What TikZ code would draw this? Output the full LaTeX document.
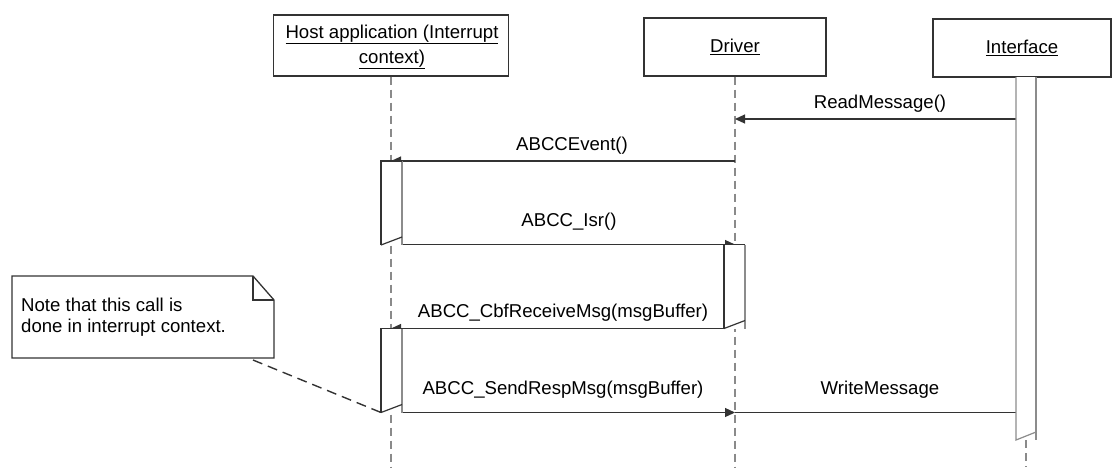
\documentclass[tikz,border=0pt]{standalone}
\usepackage{fontspec}
\setmainfont{Liberation Sans}
\usetikzlibrary{arrows.meta}
\definecolor{ink}{HTML}{333333}
\definecolor{lifegray}{HTML}{8A8A8A}
\definecolor{barside}{HTML}{8C8C8C}

% activation bar: #1 left x, #2 right x, #3 top y, #4 bottom y
\newcommand\actbox[4]{%
  \fill[white] (#1,#3) rectangle (#2,#4);
  \draw[barline, draw=barside] (#2,#3) -- (#2,#4);
  \draw[barline] (#1,#4) -- (#1,#3) -- (#2,#3);
  \draw[barline] (#1,#4) -- (#2,{#4-8});
}

\begin{document}
\begin{tikzpicture}[x=1pt,y=-1pt,
  font=\fontsize{18.6}{21}\selectfont,
  objbox/.style={draw=ink, line width=1.3pt, fill=white, inner sep=0pt, align=center},
  lifeline/.style={draw=lifegray, line width=1.2pt, dash pattern=on 8pt off 5pt},
  msg/.style={draw=ink, line width=1.2pt},
  call/.style={msg, -{Triangle[length=10pt,width=9pt]}},
  barline/.style={draw=ink, line width=1.2pt},
  lbl/.style={inner sep=0pt, anchor=base},
  notelink/.style={draw=ink, line width=1.4pt, dash pattern=on 10pt off 6pt}
]
\useasboundingbox (0,0) rectangle (1113,467);

% participants
\node[objbox, minimum width=235pt, minimum height=61pt] (host) at (391,45.5) {};
\node[inner sep=0pt, align=center] (hostlbl) at (392,47)
  {\underline{Host application (Interrupt}\\[4pt]\underline{context)}};
\node[objbox, minimum width=182pt, minimum height=58pt] (drv) at (735,47) {\underline{Driver}};
\node[objbox, minimum width=178pt, minimum height=58pt] (itf) at (1022,48) {\underline{Interface}};

% anchor points on the lifelines
\coordinate (hostEnd) at (391,467);
\coordinate (drvEnd) at (735,467);
\coordinate (itfBot) at (1026,440);
\coordinate (itfEnd) at (1026,467);

% lifelines
\draw[lifeline] (host.south) -- (hostEnd);
\draw[lifeline] (drv.south) -- (drvEnd);
\draw[lifeline] (itfBot) -- (itfEnd);

% message end points
\coordinate (rmA) at (1016,119);   \coordinate (rmB) at (735,119);
\coordinate (evA) at (735,161);    \coordinate (evB) at (391,161);
\coordinate (isA) at (402,244.5);  \coordinate (isB) at (735,244.5);
\coordinate (cbA) at (724,328.5);  \coordinate (cbB) at (391,328.5);
\coordinate (srA) at (402,412.5);  \coordinate (srB) at (735,412.5);
\coordinate (wmB) at (1016,412.5);

% messages
\draw[call] (rmA) -- (rmB);
\node[lbl] (lrm) at (880,108.5) {ReadMessage()};
\draw[call] (evA) -- (evB);
\node[lbl] (lev) at (572,150) {ABCCEvent()};
\draw[call] (isA) -- (isB);
\node[lbl] (lis) at (569,226) {ABCC\_Isr()};
\draw[call] (cbA) -- (cbB);
\node[lbl] (lcb) at (563,317) {ABCC\_CbfReceiveMsg(msgBuffer)};
\draw[call] (srA) -- (srB);
\node[lbl] (lsr) at (563,394) {ABCC\_SendRespMsg(msgBuffer)};
\draw[msg] (srB) -- (wmB);
\node[lbl] (lwm) at (880,394) {WriteMessage};

% activation bars
\actbox{381}{402}{161}{245}
\actbox{381}{402}{328.5}{412.5}
\actbox{724}{745}{244.5}{328.5}
\fill[white] (1016,77) rectangle (1036,440);
\draw[barline, draw=barside] (1016,77) -- (1016,440) -- (1036,432);
\draw[barline, draw=barside] (1036,77) -- (1036,440);

% note with folded corner
\draw[draw=ink, line width=1.3pt, fill=white]
  (12,276) -- (253,276) -- (274,300) -- (274,358) -- (12,358) -- cycle;
\draw[draw=ink, line width=1.3pt] (253,276) -- (253,300) -- (274,300);
\node[inner sep=0pt, anchor=north west, align=left] (note) at (21,298)
  {Note that this call is\\done in interrupt context.};
\coordinate (noteTip) at (253,360);
\coordinate (barCorner) at (381,412.5);
\draw[notelink] (noteTip) -- (barCorner);
\end{tikzpicture}
\end{document}
